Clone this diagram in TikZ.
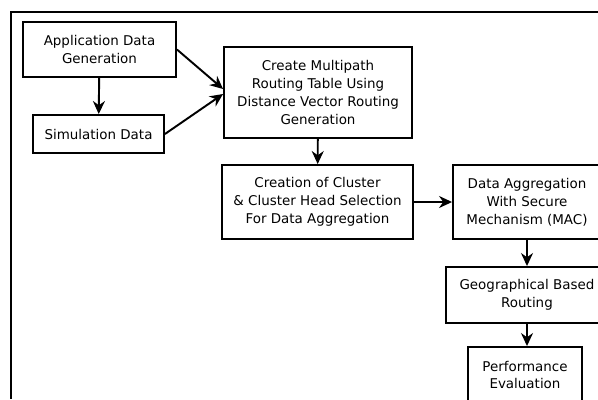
\documentclass[tikz,border=0pt]{standalone}
\usepackage{fontspec}
\setmainfont{DejaVu Sans}
\usepackage{tikz}
\usetikzlibrary{arrows.meta}

\begin{document}
\begin{tikzpicture}[x=0.02cm, y=-0.02cm,
    every node/.style={font=\fontsize{7.65}{10.2}\selectfont, align=center},
    stage/.style={draw, line width=1.1pt, inner sep=0pt},
    flow/.style={line width=1.1pt, -{Stealth[length=2.6mm, width=2.4mm]}}]
    \useasboundingbox (0,0) rectangle (598,399);
    \clip (0,0) rectangle (598,399);
    % Drawing frame
    \draw [line width=1.1pt] (598,12) -- (11,12) -- (11,399);
    % Drawing stages
    \node [stage, minimum width=3.06cm, minimum height=1.1cm] (appgen) at (99.5,49.5)
      {Application Data\\Generation};
    \node [stage, minimum width=2.62cm, minimum height=0.76cm] (simdata) at (98.5,134)
      {Simulation Data};
    \node [stage, minimum width=3.76cm, minimum height=1.82cm] (multipath) at (318,92.5)
      {Create Multipath\\Routing Table Using\\Distance Vector Routing\\Generation};
    \node [stage, minimum width=3.82cm, minimum height=1.48cm] (cluster) at (317.5,202)
      {Creation of Cluster\\\& Cluster Head Selection\\For Data Aggregation};
    \node [stage, minimum width=2.96cm, minimum height=1.48cm] (aggregate) at (527,202)
      {Data Aggregation\\With Secure\\Mechanism (MAC)};
    \node [stage, minimum width=3.24cm, minimum height=1.12cm] (georoute) at (527,295)
      {Geographical Based\\Routing};
    \node [stage, minimum width=2.28cm, minimum height=1.12cm] (perf) at (525,375)
      {Performance\\Evaluation};
    % Drawing arrows
    \draw [flow] (appgen) -- (simdata);
    \draw [flow] (appgen.east) -- ([yshift=0.07cm]multipath.west);
    \draw [flow] (simdata.east) -- ([yshift=-0.03cm]multipath.west);
    \draw [flow] (multipath) -- (cluster);
    \draw [flow] (cluster) -- (aggregate);
    \draw [flow] (aggregate.south -| georoute) -- (georoute);
    \draw [flow] (georoute) -- (perf.north -| georoute);
  \end{tikzpicture}
\end{document}
